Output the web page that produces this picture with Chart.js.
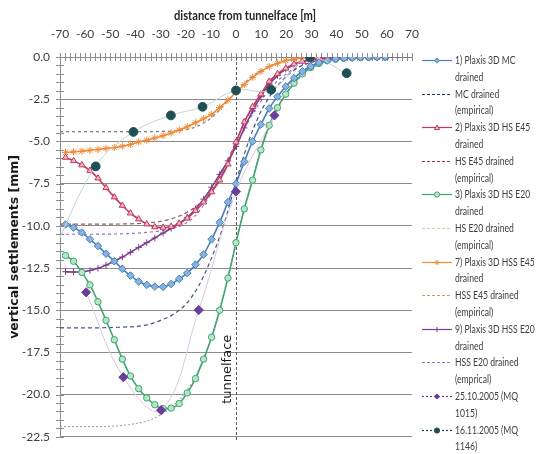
<!DOCTYPE html>
<html><head><meta charset="utf-8">
<script src="https://cdn.jsdelivr.net/npm/chart.js@4.4.1/dist/chart.umd.min.js"></script>
<style>
html,body{margin:0;padding:0;background:#fff;}
#wrap{position:relative;width:537px;height:454px;overflow:hidden;}
#c{position:absolute;left:0;top:0;}
#xtitle{position:absolute;top:7px;left:245px;transform:translateX(-50%) scaleX(0.86);font:bold 13px Lato, sans-serif;color:#262626;white-space:nowrap;}
#legend{position:absolute;left:421px;top:52px;width:116px;}
.li{display:flex;align-items:flex-start;height:33.6px;}
.li canvas{flex:none;}
.li .t{font:11px Lato, sans-serif;line-height:16.8px;color:#404040;width:104px;flex:none;transform:scaleX(0.78);transform-origin:0 0;}
</style></head>
<body><div id="wrap"><canvas id="c" width="537" height="454"></canvas><div id="xtitle">distance from tunnelface [m]</div><div id="legend"></div></div>
<script>
// ---------- data ----------
const xModel = [-67.8,-64.6,-61.3,-58.1,-54.9,-51.7,-48.4,-45.2,-42.0,-38.7,-35.5,-32.3,-29.0,-25.8,-22.6,-19.4,-16.1,-12.9,-9.7,-6.5,-3.2,0,3.3,6.6,9.9,13.2,16.5,19.8,23.1,26.4,29.7,33.0,36.3,39.6,42.9,46.2,49.5,52.8,56.1,59.4];
const mcDrained   = [-9.92,-10.1,-10.4,-10.8,-11.2,-11.65,-12.1,-12.55,-12.95,-13.3,-13.5,-13.6,-13.62,-13.45,-13.15,-12.8,-12.3,-11.7,-10.8,-9.8,-8.6,-7.5,-6.2,-5.0,-4.0,-3.05,-2.35,-1.75,-1.25,-0.85,-0.55,-0.33,-0.2,-0.12,-0.07,-0.04,-0.02,-0.01,0,0];
const hsE45       = [-5.95,-6.15,-6.4,-6.73,-7.18,-7.75,-8.3,-8.8,-9.25,-9.6,-9.9,-10.07,-10.1,-10.04,-9.86,-9.55,-9.1,-8.6,-8.0,-7.3,-6.35,-5.05,-3.85,-2.95,-2.2,-1.45,-1.0,-0.67,-0.42,-0.26,-0.15,-0.09,-0.05,-0.03,-0.02,-0.01,0,0,0,0];
const hsE20       = [-11.76,-12.1,-12.76,-13.5,-14.5,-15.6,-16.75,-17.9,-18.9,-19.65,-20.2,-20.6,-20.83,-20.8,-20.53,-19.9,-19.05,-17.9,-16.6,-15.0,-13.1,-11.0,-9.0,-7.3,-5.5,-4.05,-3.0,-2.2,-1.55,-1.0,-0.62,-0.38,-0.22,-0.13,-0.07,-0.04,-0.02,-0.01,0,0];
const hssE45      = [-5.65,-5.62,-5.58,-5.53,-5.48,-5.42,-5.36,-5.28,-5.18,-5.03,-4.93,-4.8,-4.66,-4.5,-4.33,-4.13,-3.9,-3.66,-3.4,-3.0,-2.55,-2.1,-1.64,-1.2,-0.86,-0.57,-0.37,-0.22,-0.12,-0.06,-0.03,-0.01,0,0,0,0,0,0,0,0];
const hssE20      = [-12.72,-12.74,-12.72,-12.65,-12.52,-12.33,-12.1,-11.85,-11.57,-11.28,-11.0,-10.72,-10.43,-10.16,-9.87,-9.5,-9.0,-8.42,-7.72,-6.95,-6.15,-5.3,-4.2,-3.2,-2.35,-1.62,-1.1,-0.72,-0.46,-0.28,-0.17,-0.1,-0.06,-0.03,-0.02,-0.01,0,0,0,0];

const xEmp = [-70,-60,-50,-45,-40,-35,-30,-25,-20,-15,-10,-5,0,5,10,15,20,25,30,35,40,50,60,70];
const mcEmp     = [-16.05,-16.05,-16.03,-16.0,-15.97,-15.85,-15.6,-15.25,-14.65,-13.6,-12.0,-10.0,-7.4,-5.0,-3.2,-2.0,-1.15,-0.6,-0.3,-0.14,-0.06,-0.01,0,0];
const hsE45Emp  = [-9.9,-9.9,-9.9,-9.89,-9.87,-9.82,-9.74,-9.55,-9.25,-8.75,-8.0,-6.7,-5.0,-3.4,-2.2,-1.3,-0.7,-0.35,-0.17,-0.08,-0.03,0,0,0];
const hsE20Emp  = [-21.9,-21.9,-21.88,-21.82,-21.72,-21.55,-21.2,-20.65,-19.85,-18.6,-16.7,-14.1,-11.0,-8.0,-5.5,-3.6,-2.2,-1.3,-0.7,-0.35,-0.16,-0.03,0,0];
const hssE45Emp = [-4.42,-4.42,-4.42,-4.42,-4.42,-4.42,-4.41,-4.39,-4.3,-4.08,-3.62,-2.9,-2.05,-1.32,-0.8,-0.45,-0.23,-0.11,-0.05,-0.02,0,0,0,0];
const hssE20Emp = [-10.5,-10.5,-10.49,-10.47,-10.44,-10.38,-10.3,-10.15,-9.85,-9.2,-8.1,-6.8,-5.3,-3.8,-2.6,-1.65,-1.0,-0.58,-0.32,-0.17,-0.08,-0.02,0,0];

const x251005 = [-59.6,-44.8,-29.8,-14.8,0,15.3];
const y251005 = [-13.94,-18.97,-20.92,-14.99,-7.97,-3.46];
const x161105 = [-72,-55.8,-40.8,-25.9,-13.3,0,14,29.4,44];
const y161105 = [-11.3,-6.48,-4.44,-3.46,-2.95,-1.98,-1.94,0,-0.96];

const xTicks = {min:-70, max:70, step:10, minor:2};
const yTicks = {min:-22.5, max:0, step:2.5, minor:0.5};
const TUNNEL_FACE_X = 0;
const TUNNEL_LABEL = 'tunnelface';
const TUNNEL_LABEL_Y = -18.5;
const Y_TITLE = 'vertical settlements [mm]';

// ---------- chart ----------
const pts = (xs, ys) => xs.map((x, i) => ({x, y: ys[i]}));
const AXIS_COLOR = '#8c8c8c';

function model(label, ys, color, style, fill, radius) {
  return {label, data: pts(xModel, ys), borderColor: color, backgroundColor: fill, borderWidth: 1.6,
    pointStyle: style, pointRadius: radius, pointBorderColor: color, pointBackgroundColor: fill,
    pointBorderWidth: 1, cubicInterpolationMode: 'monotone', order: 1};
}
function emp(label, ys, color, dash) {
  return {label, data: pts(xEmp, ys), borderColor: color, backgroundColor: color, borderWidth: 1.2,
    borderDash: dash, pointRadius: 0, pointStyle: false, cubicInterpolationMode: 'monotone', order: 2};
}
function meas(label, xs, ys, color, lineColor, style, radius) {
  return {label, data: pts(xs, ys), borderColor: lineColor, backgroundColor: color, borderWidth: 1,
    pointStyle: style, pointRadius: radius, pointBorderColor: color, pointBackgroundColor: color,
    pointBorderWidth: 1, tension: 0.4, order: 0, legendDash: [2, 2], legendLine: color};
}

const datasets = [
  model('1) Plaxis 3D MC drained', mcDrained, '#4A7EBB', 'rectRot', '#86B3E0', 3.8),
  emp('MC drained (empirical)', mcEmp, '#4a5680', [4, 3]),
  model('2) Plaxis 3D HS E45 drained', hsE45, '#C0395F', 'triangle', '#F0B4BE', 3.6),
  emp('HS E45 drained (empirical)', hsE45Emp, '#9E5A6C', [4, 3]),
  model('3) Plaxis 3D HS E20 drained', hsE20, '#3FA56E', 'circle', '#B8E4C8', 3.2),
  emp('HS E20 drained (empirical)', hsE20Emp, '#A8ADA0', [2, 2]),
  model('7) Plaxis 3D HSS E45 drained', hssE45, '#F08C38', 'star', '#F08C38', 3.6),
  emp('HSS E45 drained (empirical)', hssE45Emp, '#7F7892', [3, 3]),
  model('9) Plaxis 3D HSS E20 drained', hssE20, '#7B3F8E', 'cross', '#7B3F8E', 3.2),
  emp('HSS E20 drained (emprical)', hssE20Emp, '#9A72B0', [3, 3]),
  meas('25.10.2005 (MQ 1015)', x251005, y251005, '#6A3D9A', '#DCC4E6', 'rectRot', 4.6),
  meas('16.11.2005 (MQ 1146)', x161105, y161105, '#1E4F55', '#C4D4D8', 'circle', 4.4)
];
// legend sample colours for empirical lines as in the reference legend
const legendEmpColors = {
  'MC drained (empirical)': '#1F3864', 'HS E45 drained (empirical)': '#943634',
  'HS E20 drained (empirical)': '#C3D69B', 'HSS E45 drained (empirical)': '#C4A070',
  'HSS E20 drained (emprical)': '#A070C8'
};

const axisDecor = {
  id: 'axisDecor',
  beforeDatasetsDraw(chart) {
    const {ctx, chartArea: a, scales: {x, y}} = chart;
    ctx.save();
    ctx.strokeStyle = AXIS_COLOR; ctx.lineWidth = 1;
    ctx.beginPath();
    for (let v = xTicks.min; v <= xTicks.max; v += xTicks.minor) {
      const px = Math.round(x.getPixelForValue(v)) + 0.5;
      ctx.moveTo(px, a.top - 4); ctx.lineTo(px, a.top + 4);
    }
    for (let v = yTicks.max; v >= yTicks.min; v -= yTicks.minor) {
      const py = Math.round(y.getPixelForValue(v)) + 0.5;
      ctx.moveTo(a.left - 4, py); ctx.lineTo(a.left + 4, py);
    }
    ctx.stroke();
    const tx = Math.round(x.getPixelForValue(TUNNEL_FACE_X)) + 0.5;
    ctx.setLineDash([3, 2]); ctx.strokeStyle = '#5a5a5a';
    ctx.beginPath(); ctx.moveTo(tx, a.top); ctx.lineTo(tx, a.bottom + 4); ctx.stroke();
    ctx.setLineDash([]);
    ctx.translate(tx - 9, y.getPixelForValue(TUNNEL_LABEL_Y)); ctx.rotate(-Math.PI / 2);
    ctx.font = '13px "DejaVu Sans"'; ctx.fillStyle = '#1a1a1a';
    ctx.textAlign = 'center'; ctx.textBaseline = 'middle';
    ctx.fillText(TUNNEL_LABEL, 0, 0);
    ctx.restore();
  }
};

const tickFont = {family: "Lato, sans-serif", size: 12};
const chart = new Chart(document.getElementById('c'), {
  type: 'line',
  data: {datasets},
  options: {
    responsive: false, animation: false, events: [],
    layout: {padding: {left: 0, right: 125, top: 0, bottom: 14}},
    plugins: {legend: {display: false}, tooltip: {enabled: false}},
    scales: {
      x: {type: 'linear', position: 'top', min: xTicks.min, max: xTicks.max,
        afterFit: s => { s.height = 57; },
        ticks: {stepSize: xTicks.step, padding: 16, color: '#404040', font: tickFont, maxRotation: 0,
          callback: v => String(v)},
        grid: {drawOnChartArea: false, drawTicks: false},
        border: {display: true, color: AXIS_COLOR}},
      y: {type: 'linear', min: yTicks.min, max: yTicks.max,
        afterFit: s => { s.width = 60; },
        ticks: {stepSize: yTicks.step, padding: 10, color: '#404040', font: tickFont,
          callback: v => Number(v).toFixed(1)},
        grid: {color: AXIS_COLOR, drawTicks: false},
        border: {display: true, color: AXIS_COLOR},
        title: {display: true, text: Y_TITLE, color: '#1a1a1a',
          font: {family: "'DejaVu Sans'", size: 12.5, weight: 'bold'}, padding: {top: 7, bottom: 0}}}
    }
  },
  plugins: [axisDecor]
});

// ---------- HTML legend ----------
function drawMarker(ctx, style, x, y, r) {
  ctx.beginPath();
  if (style === 'rectRot') { ctx.moveTo(x, y - r); ctx.lineTo(x + r, y); ctx.lineTo(x, y + r); ctx.lineTo(x - r, y); ctx.closePath(); ctx.fill(); ctx.stroke(); }
  else if (style === 'triangle') { ctx.moveTo(x, y - r); ctx.lineTo(x + r, y + r * 0.8); ctx.lineTo(x - r, y + r * 0.8); ctx.closePath(); ctx.fill(); ctx.stroke(); }
  else if (style === 'circle') { ctx.arc(x, y, r, 0, Math.PI * 2); ctx.fill(); ctx.stroke(); }
  else if (style === 'star') { for (let k = 0; k < 4; k++) { const t = k * Math.PI / 4; ctx.moveTo(x - r * Math.cos(t), y - r * Math.sin(t)); ctx.lineTo(x + r * Math.cos(t), y + r * Math.sin(t)); } ctx.stroke(); }
  else if (style === 'cross') { ctx.moveTo(x - r, y); ctx.lineTo(x + r, y); ctx.moveTo(x, y - r); ctx.lineTo(x, y + r); ctx.stroke(); }
}
const leg = document.getElementById('legend');
datasets.forEach(d => {
  const row = document.createElement('div'); row.className = 'li';
  const cv = document.createElement('canvas'); cv.width = 34; cv.height = 17;
  const g = cv.getContext('2d');
  const isEmp = d.pointRadius === 0;
  const lc = isEmp ? legendEmpColors[d.label] : (d.legendLine || d.borderColor);
  g.strokeStyle = lc; g.lineWidth = 1.2;
  g.setLineDash(isEmp ? [3, 2] : (d.legendDash || []));
  g.beginPath(); g.moveTo(1, 8.5); g.lineTo(31, 8.5); g.stroke(); g.setLineDash([]);
  if (!isEmp) { g.fillStyle = d.pointBackgroundColor; g.strokeStyle = d.pointBorderColor; g.lineWidth = 1; drawMarker(g, d.pointStyle, 16, 8.5, 2.6); }
  const t = document.createElement('div'); t.className = 't'; t.textContent = d.label;
  row.appendChild(cv); row.appendChild(t); leg.appendChild(row);
});
</script>
</body></html>
